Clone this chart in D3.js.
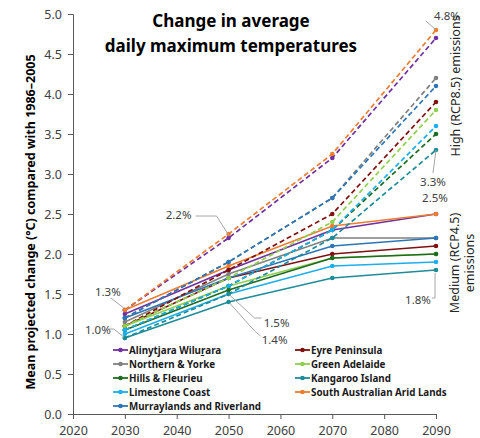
<!DOCTYPE html>
<html><head><meta charset="utf-8">
<script src="https://cdn.jsdelivr.net/npm/d3@7"></script>
<style>
html,body{margin:0;padding:0;background:#fff;}
text{font-family:"Noto Sans","Open Sans",sans-serif;}
</style></head>
<body>
<svg id="chart" width="480" height="438"></svg>
<script>
const years = [2030, 2050, 2070, 2090];
const regions = ["Alinytjara Wiluṟara","Eyre Peninsula","Northern & Yorke","Green Adelaide","Hills & Fleurieu","Kangaroo Island","Limestone Coast","South Australian Arid Lands","Murraylands and Riverland"];
const colors = ["#7030A0","#7F1010","#808080","#8FCF4E","#1D6B22","#1E8C98","#1CAEEB","#ED7D31","#2E75B6"];
// Medium (RCP4.5) emissions, solid
const medium = [
  [1.25, 1.80, 2.30, 2.50],
  [1.10, 1.70, 2.00, 2.10],
  [1.15, 1.75, 2.20, 2.20],
  [1.10, 1.60, 1.95, 2.00],
  [1.05, 1.55, 1.95, 2.00],
  [0.95, 1.40, 1.70, 1.80],
  [1.00, 1.50, 1.85, 1.90],
  [1.30, 1.85, 2.35, 2.50],
  [1.20, 1.70, 2.10, 2.20]
];
// High (RCP8.5) emissions, dashed
const high = [
  [1.30, 2.20, 3.20, 4.70],
  [1.10, 1.80, 2.50, 3.90],
  [1.20, 1.90, 2.70, 4.20],
  [1.10, 1.70, 2.40, 3.80],
  [1.05, 1.60, 2.30, 3.50],
  [0.95, 1.50, 2.20, 3.30],
  [1.05, 1.60, 2.30, 3.60],
  [1.30, 2.25, 3.25, 4.80],
  [1.20, 1.90, 2.70, 4.10]
];
const xTicks = [2020, 2030, 2040, 2050, 2060, 2070, 2080, 2090];
const yTicks = [0, 0.5, 1, 1.5, 2, 2.5, 3, 3.5, 4, 4.5, 5];
const titleLines = ["Change in average", "daily maximum temperatures"];
const yTitle = "Mean projected change (°C) compared with 1986–2005";
// annotation labels: text, year, value of the point they point at
const notes = [
  {text:"4.8%", year:2090, value:4.80},
  {text:"3.3%", year:2090, value:3.30},
  {text:"2.5%", year:2090, value:2.50},
  {text:"1.8%", year:2090, value:1.80},
  {text:"2.2%", year:2050, value:2.20},
  {text:"1.3%", year:2030, value:1.30},
  {text:"1.0%", year:2030, value:0.95},
  {text:"1.5%", year:2050, value:1.50},
  {text:"1.4%", year:2050, value:1.40}
];

const svg = d3.select("#chart");
const x = d3.scaleLinear().domain([2020, 2090]).range([73, 436]);
const y = d3.scaleLinear().domain([0, 5]).range([414, 14]);
const axisColor = "#595959";

// axes
const gx = svg.append("g").attr("transform", "translate(0,414)")
  .call(d3.axisBottom(x).tickValues(xTicks).tickFormat(d3.format("d")).tickSize(5).tickPadding(5));
const gy = svg.append("g").attr("transform", "translate(73,0)")
  .call(d3.axisLeft(y).tickValues(yTicks).tickFormat(d3.format(".1f")).tickSize(5).tickPadding(6));
[gx, gy].forEach(g => {
  g.select(".domain").attr("stroke", axisColor).attr("stroke-width", 1);
  g.selectAll(".tick line").attr("stroke", axisColor);
  g.selectAll(".tick text").attr("fill", "#404040").style("font-size", "12.5px").style("font-family", "'Noto Sans',sans-serif");
});
gx.selectAll(".tick text").attr("dy", "0.9em");

// lines
const line = d3.line().x((d, i) => x(years[i])).y(d => y(d));
const gLines = svg.append("g");
regions.forEach((r, k) => {
  gLines.append("path").datum(medium[k]).attr("d", line)
    .attr("fill", "none").attr("stroke", colors[k]).attr("stroke-width", 1.6);
  gLines.selectAll(null).data(medium[k]).enter().append("circle")
    .attr("cx", (d, i) => x(years[i])).attr("cy", d => y(d)).attr("r", 2.3).attr("fill", colors[k]);
});
regions.forEach((r, k) => {
  gLines.append("path").datum(high[k]).attr("d", line)
    .attr("fill", "none").attr("stroke", colors[k]).attr("stroke-width", 1.7)
    .attr("stroke-dasharray", "5,3");
  gLines.selectAll(null).data(high[k]).enter().append("circle")
    .attr("cx", (d, i) => x(years[i])).attr("cy", d => y(d)).attr("r", 2.3).attr("fill", colors[k]);
});

// annotations
const ann = svg.append("g");
const leaderColor = "#A6A6A6";
function note(n, tx, ty, path) {
  ann.append("path").attr("d", path).attr("fill", "none").attr("stroke", leaderColor).attr("stroke-width", 1);
  ann.append("text").attr("x", tx).attr("y", ty).attr("text-anchor", "middle")
    .attr("dominant-baseline", "central").attr("fill", "#404040").style("font-size", "11.5px").text(n.text);
}
{
  const P = n => [x(n.year), y(n.value)];
  let n = notes[0], p = P(n);
  note(n, p[0] + 11, p[1] - 15, `M${p[0]},${p[1]} L${p[0]-10},${p[1]-9}`);
  n = notes[1]; p = P(n);
  note(n, p[0] - 3, 181, `M${p[0]},${p[1]} L${p[0]-3},${173}`);
  n = notes[2]; p = P(n);
  note(n, p[0] - 1, 197, "");
  n = notes[3]; p = P(n);
  note(n, p[0] - 18, 299, `M${p[0]-1},${p[1]+3} L${p[0]-1},${298} L${p[0]-4},${298}`);
  n = notes[4]; p = P(n);
  note(n, p[0] - 50, p[1] - 24, `M${p[0]-33},${p[1]-22} L${p[0]-12},${p[1]-22} L${p[0]},${p[1]-3}`);
  n = notes[5]; p = P(n);
  note(n, p[0] - 17, p[1] - 19, `M${p[0]-14},${p[1]-12} L${p[0]-1},${p[1]-2}`);
  n = notes[6]; p = P(n);
  note(n, p[0] - 27, p[1] - 9, `M${p[0]-17},${p[1]-9} L${p[0]-11},${p[1]-9} L${p[0]-1},${p[1]-1}`);
  n = notes[7]; p = P(n);
  note(n, p[0] + 48, p[1] + 28, `M${p[0]+1},${p[1]+1} L${p[0]+26},${p[1]+24} L${p[0]+33},${p[1]+24}`);
  n = notes[8]; p = P(n);
  note(n, p[0] + 46, p[1] + 37, `M${p[0]+1},${p[1]+1} L${p[0]+26},${p[1]+29} L${p[0]+32},${p[1]+34}`);
}

// scenario labels (rotated)
svg.append("text").attr("transform", "translate(455,86) rotate(-90)").attr("text-anchor", "middle")
  .attr("dominant-baseline", "central").attr("fill", "#262626").style("font-size", "12.5px").text("High (RCP8.5) emissions");
const med = svg.append("text").attr("transform", "translate(455,263) rotate(-90)").attr("text-anchor", "middle")
  .attr("fill", "#262626").style("font-size", "12.5px");
med.append("tspan").attr("x", 0).attr("dy", "0.35em").text("Medium (RCP4.5)");
med.append("tspan").attr("x", 0).attr("dy", "1.2em").text("emissions");

// title
const t = svg.append("text").attr("text-anchor", "middle").attr("fill", "#000").style("font-size", "17px").style("font-weight", "bold");
titleLines.forEach((s, i) => t.append("tspan").attr("x", 231).attr("y", 27 + i * 25).text(s));

// y axis title
svg.append("text").attr("transform", "translate(30,222) rotate(-90)").attr("text-anchor", "middle")
  .attr("dominant-baseline", "central").attr("fill", "#000").style("font-size", "12.5px").style("font-weight", "bold").text(yTitle);

// legend
const lg = svg.append("g");
regions.forEach((r, k) => {
  const col = k % 2, row = Math.floor(k / 2);
  const lx = col === 0 ? 113 : 295;
  const ly = 350 + row * 14;
  lg.append("line").attr("x1", lx).attr("x2", lx + 15).attr("y1", ly).attr("y2", ly).attr("stroke", colors[k]).attr("stroke-width", 1.8);
  lg.append("circle").attr("cx", lx + 7.5).attr("cy", ly).attr("r", 2.3).attr("fill", colors[k]);
  lg.append("text").attr("x", lx + 16).attr("y", ly).attr("dominant-baseline", "central")
    .attr("fill", "#1a1a1a").style("font-size", "9.8px").style("font-weight", "bold").text(r);
});
</script>
</body></html>
